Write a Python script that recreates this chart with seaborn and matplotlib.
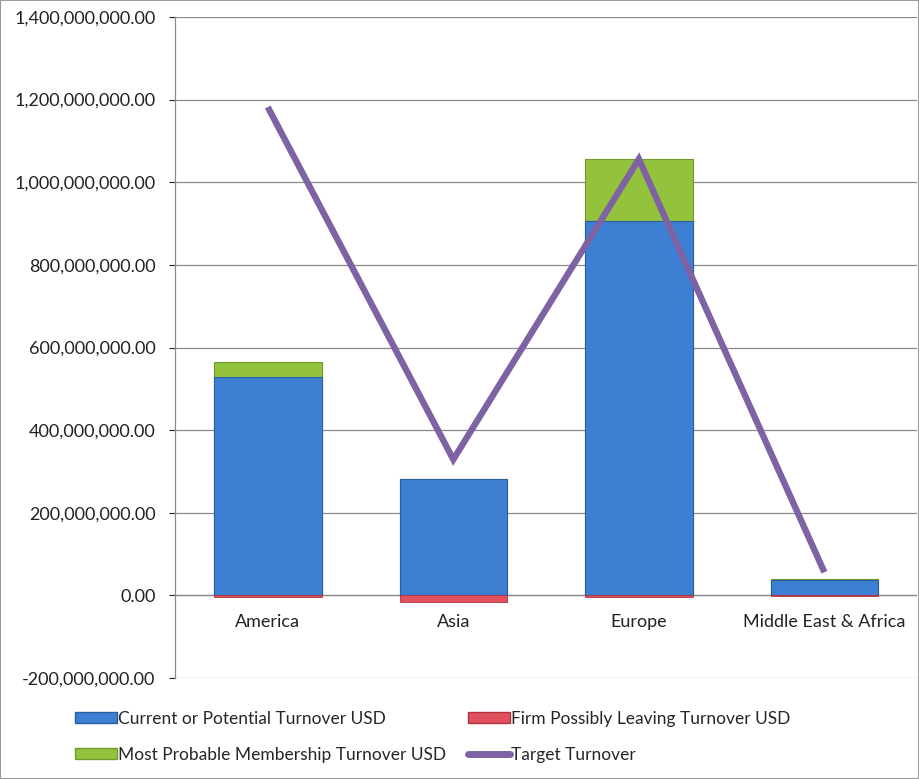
import numpy as np
import pandas as pd
import matplotlib
matplotlib.use("Agg")
import matplotlib.pyplot as plt
import seaborn as sns
from matplotlib.patches import Patch, Rectangle
from matplotlib.lines import Line2D
from matplotlib.ticker import FuncFormatter
from matplotlib.transforms import offset_copy

regions = ["America", "Asia", "Europe", "Middle East & Africa"]
current = [528e6, 281e6, 906e6, 37e6]
leaving = [-4e6, -17e6, -4e6, -1e6]
probable = [36e6, 0.0, 150e6, 2e6]
target = [1182e6, 329e6, 1056e6, 56e6]

sns.set_theme(style="white")
plt.rcParams['font.family'] = ['Lato', 'DejaVu Sans']

c_blue = "#3d7fd3"
c_red = "#e0505e"
c_green = "#93c23c"
c_purple = "#7e62a3"

fig = plt.figure(figsize=(9.19, 7.79), dpi=100)
ax = fig.add_axes([175/919, 1-678/779, 1-175/919 - 0.002, (678-17)/779])

df = pd.DataFrame({"region": regions,
                   "total": np.array(current) + np.array(probable),
                   "current": current,
                   "leaving": leaving})

sns.barplot(data=df, x="region", y="total", color=c_green, width=0.58,
            saturation=1, edgecolor="#6f9a2a", linewidth=0.8, ax=ax, zorder=2)
sns.barplot(data=df, x="region", y="current", color=c_blue, width=0.58,
            saturation=1, edgecolor="#2b5e9e", linewidth=0.8, ax=ax, zorder=3)
sns.barplot(data=df, x="region", y="leaving", color=c_red, width=0.58,
            saturation=1, edgecolor="#b03040", linewidth=0.6, ax=ax, zorder=3)

ax.plot(np.arange(len(regions)), target, color=c_purple, lw=4.6, zorder=4,
        solid_capstyle="butt", solid_joinstyle="miter")

ax.set_ylim(-200e6, 1400e6)
ax.set_xlim(-0.5, 3.5)
ax.set_yticks(np.arange(-200e6, 1400e6 + 1, 200e6))
ax.yaxis.set_major_formatter(FuncFormatter(lambda v, p: f"{v:,.2f}"))
ax.yaxis.grid(True, color="#8a8a8a", lw=0.9)
ax.set_axisbelow(True)
ax.set_xlabel("")
ax.set_ylabel("")
ax.tick_params(axis="y", labelsize=13, colors="#222222", length=4, width=0.8,
               left=True, pad=10)
ax.tick_params(axis="x", length=0)
ax.spines["left"].set_color("#8a8a8a")
ax.spines["left"].set_linewidth(0.9)
ax.spines["top"].set_visible(False)
ax.spines["bottom"].set_visible(False)
ax.spines["right"].set_visible(False)
ax.axhline(0, color="#8a8a8a", lw=0.9, zorder=1)

ax.set_xticks(range(len(regions)))
ax.set_xticklabels([])
tr = offset_copy(ax.transData, fig=fig, x=0, y=-19.5, units="points")
for i, r in enumerate(regions):
    ax.text(i, 0, r, ha="center", va="center", fontsize=13, color="#222222",
            transform=tr)

handles = [Patch(facecolor=c_blue, edgecolor="#2b5e9e"),
           Patch(facecolor=c_green, edgecolor="#6f9a2a"),
           Patch(facecolor=c_red, edgecolor="#b03040"),
           Line2D([0], [0], color=c_purple, lw=5)]
labels = ["Current or Potential Turnover USD",
          "Most Probable Membership Turnover USD",
          "Firm Possibly Leaving Turnover USD",
          "Target Turnover"]
fig.legend(handles, labels, ncol=2, loc="upper left",
           bbox_to_anchor=(75/919, 1-711/779), frameon=False, fontsize=12.5,
           handlelength=2.4, handleheight=0.6, handletextpad=0.05,
           columnspacing=1.3, labelspacing=1.15, borderaxespad=0, borderpad=0)

fig.patches.append(Rectangle((0, 0), 1, 1, transform=fig.transFigure,
                             fill=False, edgecolor="#9a9a9a", lw=1.5))

fig.savefig("out.png", dpi=100)
